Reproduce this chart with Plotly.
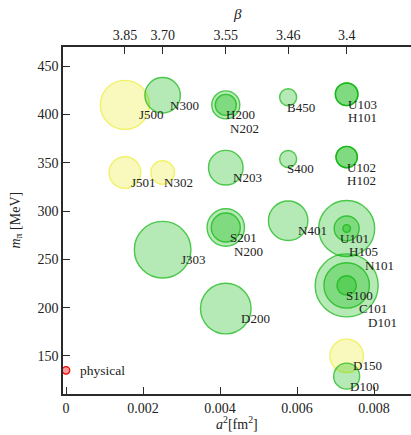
import plotly.graph_objects as go

# ---- data ----
betas = ["3.85", "3.70", "3.55", "3.46", "3.4"]
beta_a2 = [0.00153, 0.00251, 0.00415, 0.00577, 0.00729]   # a^2 [fm^2] for each beta

names = ["J500", "J501", "N302",
         "N300", "J303",
         "H200", "N202", "N203", "S201", "N200", "D200",
         "B450", "S400", "N401",
         "U103", "H101", "U102", "H102",
         "U101", "H105", "N101",
         "S100", "C101", "D101",
         "D150", "D100"]
ens_beta = ["3.85", "3.85", "3.70",
            "3.70", "3.70",
            "3.55", "3.55", "3.55", "3.55", "3.55", "3.55",
            "3.46", "3.46", "3.46",
            "3.4", "3.4", "3.4", "3.4",
            "3.4", "3.4", "3.4",
            "3.4", "3.4", "3.4",
            "3.4", "3.4"]
mpi = [410, 340, 340,
       420, 260,
       410, 410, 345, 283, 283, 199,
       418, 354, 290,
       421, 421, 356, 356,
       282, 282, 282,
       223, 223, 223,
       150, 129]
bubble = [49, 31.6, 23.6,
          35.4, 56.6,
          21, 28, 34.6, 29, 37.4, 50.6,
          17, 17, 39.4,
          22.6, 22.6, 21.4, 21.4,
          7.6, 25, 56,
          19.4, 45.4, 63,
          33.4, 26]
group = ["open", "open", "open",
         "periodic", "periodic",
         "periodic", "periodic", "periodic", "periodic", "periodic", "periodic",
         "periodic", "periodic", "periodic",
         "periodic", "periodic", "periodic", "periodic",
         "periodic", "periodic", "periodic",
         "periodic", "periodic", "periodic",
         "open", "periodic"]

phys_a2 = [0.0]
phys_mpi = [135]
phys_label = "physical"

x_ticks = [0, 0.002, 0.004, 0.006, 0.008]
x_ticktext = ["0", "0.002", "0.004", "0.006", "0.008"]
y_ticks = [150, 200, 250, 300, 350, 400, 450]

# ---- styles ----
styles = {
    "open": dict(fill="rgba(232,232,0,0.36)", line="rgb(236,236,40)"),
    "periodic": dict(fill="rgba(0,182,0,0.41)", line="rgb(0,178,0)"),
}
FONT = "Liberation Serif, serif"
TXT = "#222"

a2_of = dict(zip(betas, beta_a2))
xs = [a2_of[b] for b in ens_beta]

fig = go.Figure()

# draw larger bubbles first
order = sorted(range(len(names)), key=lambda i: -bubble[i])
for g, st in styles.items():
    idx = [i for i in order if group[i] == g]
    fig.add_trace(go.Scatter(
        x=[xs[i] for i in idx], y=[mpi[i] for i in idx],
        mode="markers", hoverinfo="text", text=[names[i] for i in idx],
        marker=dict(size=[bubble[i] for i in idx], sizemode="diameter",
                    color=st["fill"], line=dict(color=st["line"], width=1.4)),
        showlegend=False))

fig.add_trace(go.Scatter(
    x=phys_a2, y=phys_mpi, mode="markers", showlegend=False,
    marker=dict(size=7.6, color="rgba(255,0,0,0.4)", line=dict(color="rgb(240,0,0)", width=1.2))))

# invisible trace to activate the top axis
fig.add_trace(go.Scatter(x=[beta_a2[0]], y=[300], xaxis="x2", mode="markers",
                         marker=dict(opacity=0), showlegend=False, hoverinfo="skip"))

# labels: stacked below-right of each bubble group
seen = {}
for i, n in enumerate(names):
    key = (ens_beta[i], mpi[i])
    k = seen.get(key, 0)
    seen[key] = k + 1
    fig.add_annotation(x=xs[i], y=mpi[i], xref="x", yref="y", text=n,
                       showarrow=False, xanchor="left", yanchor="middle",
                       xshift=bubble[i] / 2 - 11, yshift=-(10 + 13.5 * k),
                       borderpad=0,
                       font=dict(family=FONT, size=13, color=TXT))
fig.add_annotation(x=phys_a2[0], y=phys_mpi[0], xref="x", yref="y", text=phys_label,
                   showarrow=False, xanchor="left", yanchor="middle", xshift=12,
                   font=dict(family=FONT, size=13.5, color=TXT))

# axis titles placed explicitly
fig.add_annotation(x=0.5, y=0, xref="paper", yref="paper", yshift=-29, text="<i>a</i><sup>2</sup>[fm<sup>2</sup>]",
                   showarrow=False, xanchor="center", yanchor="middle", borderpad=0,
                   font=dict(family=FONT, size=14, color=TXT))
fig.add_annotation(x=0.5, y=1, xref="paper", yref="paper", yshift=33, text="<i>β</i>",
                   showarrow=False, xanchor="center", yanchor="middle",
                   font=dict(family=FONT, size=15, color=TXT))
fig.add_annotation(x=0, y=0.5, xref="paper", yref="paper", xshift=-47, text="<i>m</i><sub>π</sub> [MeV]",
                   showarrow=False, xanchor="center", yanchor="middle", textangle=-90,
                   font=dict(family=FONT, size=14, color=TXT))

axis_common = dict(showgrid=False, zeroline=False, showline=True, linecolor="#2a2a2a",
                   linewidth=1.5, ticks="inside", ticklen=7, tickwidth=1, automargin=False,
                   tickcolor="#2a2a2a", tickfont=dict(family=FONT, size=14, color=TXT))
xr = [-0.000078, 0.008961]

fig.update_layout(
    width=411, height=435,
    margin=dict(l=63, r=0, t=47, b=41),
    paper_bgcolor="white", plot_bgcolor="white",
    xaxis=dict(range=xr, tickvals=x_ticks, ticktext=x_ticktext, **axis_common),
    xaxis2=dict(range=xr, overlaying="x", side="top", tickvals=beta_a2, ticktext=betas,
                **axis_common),
    yaxis=dict(range=[110.5, 470], tickvals=y_ticks, **axis_common),
)

fig.write_html("out.html", config={"displayModeBar": False},
               post_script="document.body.style.margin='0';document.body.style.overflow='hidden';")
